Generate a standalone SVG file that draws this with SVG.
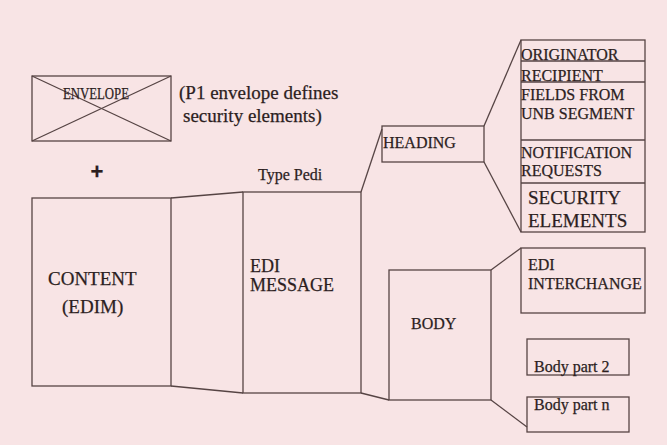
<svg xmlns="http://www.w3.org/2000/svg" width="667" height="445" viewBox="0 0 667 445">
<style>
.box{fill:none;stroke:#564444;stroke-width:1.3}
.ln{fill:none;stroke:#564444;stroke-width:1.3}
text{font-family:"Liberation Serif","Times New Roman",serif;fill:#2c1e1e;stroke:#2c1e1e;stroke-width:0.25}
.t16{font-size:16px}
.t18{font-size:18px}
.t19{font-size:19px}
</style>
<rect width="667" height="445" fill="#f8e4e5"/>
<g id="envelope">
<rect class="box" x="32" y="76" width="139" height="65"/>
<line class="ln" x1="32" y1="76" x2="171" y2="141"/>
<line class="ln" x1="171" y1="76" x2="32" y2="141"/>
<text class="t16" x="63" y="99" textLength="66" lengthAdjust="spacingAndGlyphs">ENVELOPE</text>
</g>
<g id="envelope-note">
<text class="t19" x="179" y="99">(P1 envelope defines</text>
<text class="t19" x="183" y="122">security elements)</text>
</g>
<g id="plus"><text x="97" y="179" text-anchor="middle" style="font-family:'Liberation Sans',Arial,sans-serif;font-size:22px;font-weight:bold">+</text></g>
<g id="type-pedi"><text class="t16" x="258" y="180">Type Pedi</text></g>
<g id="content">
<rect class="box" x="32" y="198" width="139" height="188"/>
<text class="t19" x="48" y="285">CONTENT</text>
<text class="t19" x="62" y="313">(EDIM)</text>
</g>
<g id="edi-message">
<rect class="box" x="243" y="192" width="118" height="201"/>
<text class="t18" x="250" y="272">EDI</text>
<text class="t18" x="250" y="291">MESSAGE</text>
</g>
<g id="heading">
<rect class="box" x="382" y="126" width="102" height="36"/>
<text class="t16" x="383" y="148">HEADING</text>
</g>
<g id="heading-fields">
<rect class="box" x="521" y="40" width="124" height="192"/>
<line class="ln" x1="521" y1="61" x2="645" y2="61"/>
<line class="ln" x1="521" y1="82" x2="645" y2="82"/>
<line class="ln" x1="521" y1="140" x2="645" y2="140"/>
<line class="ln" x1="521" y1="183" x2="645" y2="183"/>
<text class="t16" x="521" y="60">ORIGINATOR</text>
<text class="t16" x="521" y="81">RECIPIENT</text>
<text class="t16" x="521" y="100">FIELDS FROM</text>
<text class="t16" x="521" y="119">UNB SEGMENT</text>
<text class="t16" x="521" y="158">NOTIFICATION</text>
<text class="t16" x="521" y="176">REQUESTS</text>
<text class="t19" x="528" y="204">SECURITY</text>
<text class="t19" x="528" y="227">ELEMENTS</text>
</g>
<g id="body">
<rect class="box" x="389" y="270" width="102" height="130"/>
<text class="t16" x="411" y="329">BODY</text>
</g>
<g id="edi-interchange">
<rect class="box" x="521" y="248" width="124" height="65"/>
<text class="t16" x="528" y="270">EDI</text>
<text class="t16" x="528" y="289">INTERCHANGE</text>
</g>
<g id="body-part-2">
<rect class="box" x="527" y="339" width="102" height="36"/>
<text class="t16" x="534" y="372">Body part 2</text>
</g>
<g id="body-part-n">
<rect class="box" x="527" y="397" width="102" height="35"/>
<text class="t16" x="534" y="410">Body part n</text>
</g>
<g id="connectors">
<line class="ln" x1="171" y1="198" x2="243" y2="192"/>
<line class="ln" x1="171" y1="386" x2="243" y2="393"/>
<line class="ln" x1="361" y1="192" x2="382" y2="129"/>
<line class="ln" x1="361" y1="393" x2="389" y2="400"/>
<line class="ln" x1="484" y1="126" x2="521" y2="40"/>
<line class="ln" x1="484" y1="162" x2="521" y2="232"/>
<line class="ln" x1="491" y1="270" x2="521" y2="248"/>
<line class="ln" x1="491" y1="400" x2="527" y2="427"/>
</g>
</svg>
